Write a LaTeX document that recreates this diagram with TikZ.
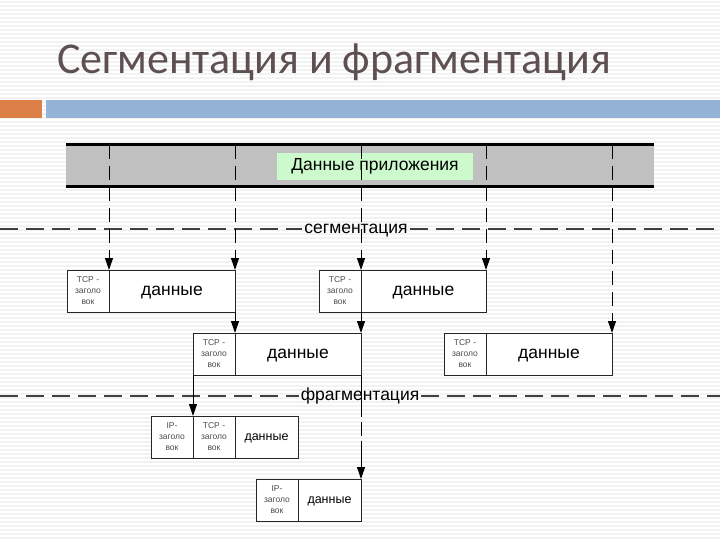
\documentclass[tikz,border=0pt]{standalone}
\usepackage{fontspec}
\setmainfont{Liberation Sans}
\newfontfamily\titlefont{Carlito}
\usetikzlibrary{arrows.meta}
\definecolor{titlecol}{RGB}{94,80,80}
\definecolor{barorange}{RGB}{221,128,71}
\definecolor{barblue}{RGB}{149,179,215}
\definecolor{appgreen}{RGB}{204,250,204}
\definecolor{bandgray}{RGB}{192,192,192}
\tikzset{
  part/.style={draw=black!85, line width=0.9pt, fill=white, inner sep=0pt, outer sep=0pt, minimum height=42pt},
  hdr/.style={part, minimum width=42pt, font=\fontsize{8.5}{11}\selectfont, text=black!70, align=center},
  dat/.style={part, text height=9.1pt, text depth=0pt, font=\fontsize{17.5}{20}\selectfont},
  smalldat/.style={part, text height=6.5pt, text depth=0pt, font=\fontsize{12.5}{15}\selectfont},
  arr/.style={-{Triangle[width=8pt,length=12pt]}, line width=1pt, draw=black},
  vdash/.style={dash pattern=on 14pt off 7pt},
  hdash/.style={draw=black!75, line width=1.5pt, dash pattern=on 18pt off 8pt},
  lbl/.style={inner sep=2pt, text height=9.1pt, text depth=0pt, font=\fontsize{17.5}{20}\selectfont},
}
\begin{document}
\begin{tikzpicture}[x=1pt,y=-1pt]
\useasboundingbox (0,0) rectangle (720,540);
% background stripes
\foreach \yy in {2,6,...,540} \draw[black!5, line width=1.6pt] (0,\yy) -- (720,\yy);
% title
\node[anchor=base west, inner sep=0pt, text=titlecol, font=\titlefont\fontsize{44}{50}\selectfont] (title) at (57,74) {Сегментация и фрагментация};
\fill[barorange] (0,100) rectangle (42,118);
\fill[barblue] (46,100) rectangle (720,118);
% band
\fill[bandgray] (66,145) rectangle (654,187);
\draw[line width=3pt] (66,145) -- (654,145);
\draw[line width=3pt] (66,187) -- (654,187);
\node[fill=appgreen, minimum width=196pt, minimum height=27pt, inner sep=0pt, font=\fontsize{17.5}{20}\selectfont] (app) at (375,166.5) {Данные приложения};
% top coordinates
\coordinate (t1) at (109,145);
\coordinate (t2) at (235,145);
\coordinate (t3) at (361,145);
\coordinate (t4) at (486,145);
\coordinate (t5) at (612,145);
% segmentation line
\node[lbl] (seg) at (356,229) {сегментация};
\coordinate (segL) at (0,229);
\coordinate (segR) at (720,229);
\draw[hdash] (segL) -- (seg.west);
\draw[hdash] (seg.east) -- (segR);
% fragmentation line
\node[lbl] (frag) at (360,396) {фрагментация};
\coordinate (fragL) at (0,396);
\coordinate (fragR) at (720,396);
\draw[hdash] (fragL) -- (frag.west);
\draw[hdash] (frag.east) -- (fragR);
% row 1
\node[hdr] (a1) at (88,291) {TCP -\\заголо\\вок};
\node[dat, minimum width=126pt] (a2) at (172,291) {данные};
\node[hdr] (b1) at (340,291) {TCP -\\заголо\\вок};
\node[dat, minimum width=125pt] (b2) at (423.5,291) {данные};
% row 2
\node[hdr] (c1) at (214,354) {TCP -\\заголо\\вок};
\node[dat, minimum width=126pt] (c2) at (298,354) {данные};
\node[hdr] (d1) at (465,354) {TCP -\\заголо\\вок};
\node[dat, minimum width=126pt] (d2) at (549,354) {данные};
% row 3
\node[hdr] (e1) at (172,437) {IP-\\заголо\\вок};
\node[hdr] (e2) at (214,437) {TCP -\\заголо\\вок};
\node[smalldat, minimum width=63pt] (e3) at (266.5,437) {данные};
% row 4
\node[hdr] (f1) at (277,500) {IP-\\заголо\\вок};
\node[smalldat, minimum width=63pt] (f2) at (329.5,500) {данные};
% arrows
\draw[arr, vdash] (t1) -- (a1.north east);
\draw[arr, vdash] (t2) -- (a2.north east);
\draw[arr, vdash] (t3) -- (b1.north east);
\draw[arr, vdash] (t4) -- (b2.north east);
\draw[arr, vdash] (t5) -- (d2.north east);
\draw[arr] (a2.south east) -- (c1.north east);
\draw[arr] (b1.south east) -- (c2.north east);
\draw[arr] (c1.south west) -- (e2.north west);
\draw[arr, dash pattern=on 42pt off 5pt on 14pt off 5pt on 60pt] (c2.south east) -- (f2.north east);
\end{tikzpicture}
\end{document}
